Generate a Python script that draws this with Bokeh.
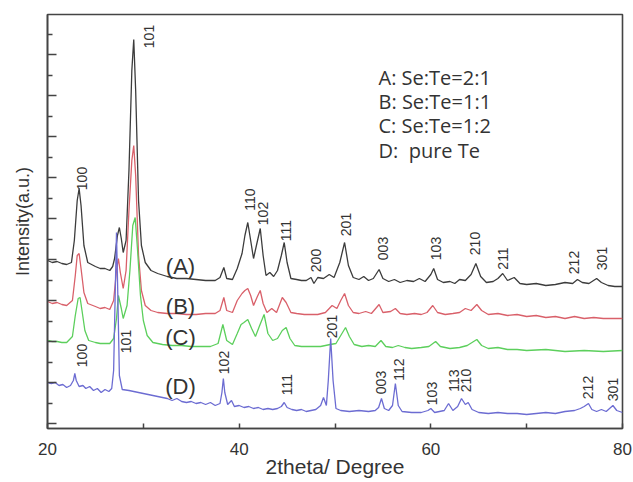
import math
from bokeh.plotting import figure
from bokeh.models import Range1d, FixedTicker, CustomJSTickFormatter, ColumnDataSource
from bokeh.core.properties import value
from bokeh.embed import file_html
from bokeh.resources import INLINE

# ---------------- data (2theta in degree, intensity in a.u.) ----------------
a_x = [20.0, 20.5, 21.0, 21.5, 22.0, 22.5, 22.8, 23.1, 23.3, 23.5, 23.8, 24.2, 25.0, 25.5, 26.0, 26.5,
       26.8, 27.0, 27.3, 27.5, 27.7, 27.9, 28.2, 28.5, 28.8, 29.0, 29.2, 29.5, 29.8, 30.2, 30.8, 31.5,
       32.5, 33.5, 34.5, 35.5, 36.5, 37.5, 38.0, 38.4, 38.7, 39.3, 39.8, 40.3, 40.6, 40.9, 41.2, 41.5,
       41.8, 42.2, 42.5, 42.8, 43.2, 43.6, 44.0, 44.4, 44.7, 45.0, 45.4, 46.0, 46.5, 47.0, 47.5, 47.8,
       48.2, 48.8, 49.4, 49.9, 50.5, 51.0, 51.4, 51.9, 52.5, 53.0, 53.5, 54.0, 54.6, 55.0, 55.6, 56.2,
       56.8, 57.5, 58.2, 58.8, 59.4, 60.0, 60.3, 60.7, 61.3, 62.0, 62.5, 63.0, 63.6, 64.2, 64.7, 65.2,
       65.8, 66.5, 67.0, 67.5, 68.0, 68.7, 69.3, 70.0, 71.0, 72.0, 73.0, 74.0, 74.8, 75.3, 75.8, 76.5,
       77.3, 77.8, 78.5, 79.2, 80.0]
a_y = [163, 161, 162, 160, 159, 161, 183, 223, 235, 218, 178, 161, 157, 155, 155, 153,
       157, 165, 188, 196, 185, 171, 183, 253, 353, 384, 333, 223, 178, 161, 153, 150,
       147, 145, 145, 144, 143, 143, 146, 156, 145, 144, 155, 170, 188, 201, 183, 165,
       178, 195, 168, 148, 151, 147, 153, 168, 181, 161, 145, 144, 143, 143, 146, 140,
       146, 145, 149, 146, 161, 181, 158, 146, 144, 147, 143, 145, 154, 145, 142, 144,
       141, 143, 142, 145, 142, 149, 155, 144, 141, 142, 140, 144, 143, 149, 160, 147,
       141, 142, 145, 150, 143, 146, 140, 139, 140, 138, 139, 141, 140, 144, 141, 140,
       145, 141, 138, 137, 137]

b_x = [20.0, 20.5, 21.0, 21.5, 22.0, 22.6, 22.9, 23.1, 23.3, 23.5, 23.8, 24.2, 25.0, 25.5, 26.0, 26.5,
       26.9, 27.2, 27.4, 27.6, 27.9, 28.2, 28.5, 28.8, 29.0, 29.2, 29.5, 29.8, 30.2, 30.8, 31.5, 32.5,
       33.5, 34.5, 35.5, 36.5, 37.5, 38.0, 38.4, 38.7, 39.3, 39.8, 40.3, 40.6, 40.9, 41.2, 41.5, 41.9,
       42.2, 42.5, 42.9, 43.4, 43.9, 44.5, 44.9, 45.4, 46.0, 46.8, 47.5, 48.2, 49.0, 49.7, 50.2, 50.6,
       51.0, 51.4, 51.9, 52.5, 53.2, 53.8, 54.6, 55.0, 55.8, 56.3, 56.8, 57.5, 58.3, 59.0, 59.6, 60.2,
       60.7, 61.5, 62.3, 63.0, 63.6, 64.2, 64.8, 65.3, 66.0, 67.0, 68.0, 69.0, 70.0, 71.0, 72.0, 73.0,
       74.0, 75.0, 76.0, 77.0, 78.0, 79.0, 80.0]
b_y = [122, 120, 121, 119, 118, 123, 148, 168, 170, 155, 131, 120, 117, 115, 116, 114,
       123, 153, 165, 151, 135, 153, 213, 263, 278, 248, 168, 133, 118, 113, 111, 110,
       110, 109, 109, 110, 110, 113, 126, 113, 111, 123, 130, 133, 135, 128, 118, 127,
       133, 120, 111, 115, 111, 126, 121, 111, 110, 109, 109, 109, 111, 118, 115, 123,
       130, 118, 111, 110, 112, 110, 119, 111, 112, 115, 110, 109, 110, 109, 111, 118,
       111, 109, 110, 111, 115, 113, 119, 113, 109, 110, 108, 109, 107, 108, 106, 107,
       105, 107, 105, 106, 105, 105, 105]

c_x = [20.0, 20.5, 21.0, 21.5, 22.0, 22.6, 22.9, 23.2, 23.4, 23.6, 23.9, 24.3, 25.0, 25.5, 26.0, 26.5,
       26.9, 27.2, 27.4, 27.7, 27.9, 28.3, 28.6, 28.9, 29.15, 29.4, 29.7, 30.0, 30.4, 31.0, 32.0, 33.0,
       34.0, 35.0, 36.0, 37.0, 37.8, 38.3, 38.7, 39.3, 39.8, 40.2, 40.5, 40.9, 41.3, 41.7, 42.1, 42.6,
       43.0, 43.5, 44.0, 44.5, 44.9, 45.3, 45.8, 46.5, 47.5, 48.5, 49.5, 50.1, 50.6, 51.1, 51.5, 52.0,
       52.8, 53.5, 54.2, 54.8, 55.3, 56.0, 56.6, 57.3, 58.0, 59.0, 59.8, 60.5, 61.0, 62.0, 63.0, 63.8,
       64.8, 65.3, 66.0, 67.0, 68.0, 69.0, 70.0, 72.0, 74.0, 76.0, 78.0, 80.0]
c_y = [83, 82, 82, 81, 81, 87, 108, 125, 126, 113, 93, 83, 81, 80, 80, 80,
       85, 105, 128, 115, 105, 118, 153, 198, 206, 173, 128, 103, 88, 81, 79, 78,
       78, 77, 77, 77, 80, 99, 83, 79, 90, 99, 101, 104, 95, 87, 97, 109,
       90, 83, 85, 93, 96, 85, 78, 77, 77, 77, 79, 80, 88, 96, 87, 79,
       77, 78, 77, 83, 77, 76, 78, 76, 75, 76, 77, 82, 77, 75, 76, 78,
       84, 78, 75, 76, 74, 74, 73, 74, 72, 73, 72, 73]

d_x = [20.0, 20.4, 20.8, 21.2, 21.6, 22.0, 22.4, 22.7, 22.85, 23.0, 23.3, 23.7, 24.0, 24.4, 24.8, 25.2,
       25.6, 26.0, 26.4, 26.7, 26.9, 27.05, 27.2, 27.35, 27.5, 27.8, 28.5, 29.5, 30.5, 31.5, 32.5, 33.0,
       33.5, 34.0, 34.5, 35.0, 35.5, 36.0, 36.5, 37.0, 37.5, 38.0, 38.2, 38.35, 38.5, 38.8, 39.2, 39.5,
       40.0, 40.5, 41.0, 41.5, 42.0, 42.5, 43.0, 43.5, 44.0, 44.4, 44.7, 45.0, 45.5, 46.0, 46.5, 47.0,
       47.5, 48.0, 48.5, 48.8, 49.1, 49.3, 49.55, 49.8, 50.1, 50.6, 51.5, 52.5, 53.5, 54.2, 54.55, 54.85,
       55.15, 55.6, 56.0, 56.3, 56.6, 57.0, 58.0, 59.0, 59.7, 60.0, 60.4, 61.4, 61.85, 62.3, 62.8, 63.2,
       63.6, 63.9, 64.3, 65.0, 66.0, 67.0, 68.0, 69.0, 70.0, 71.0, 72.0, 73.0, 74.0, 75.0, 75.6, 76.0,
       76.45, 76.8, 77.3, 77.8, 78.3, 79.0, 79.4, 80.0]
d_y = [41, 40, 41, 38, 39, 36, 38, 43, 50, 43, 37, 38, 35, 37, 33, 35,
       31, 34, 32, 35, 53, 123, 191, 123, 48, 34, 33, 31, 29, 27, 25, 23,
       25, 22, 21, 22, 20, 21, 19, 21, 18, 20, 31, 45, 31, 19, 23, 17,
       18, 16, 17, 15, 16, 14, 15, 14, 15, 17, 21, 16, 14, 13, 14, 12,
       13, 14, 18, 26, 18, 43, 85, 43, 15, 13, 12, 13, 12, 13, 16, 25,
       15, 13, 18, 40, 18, 12, 11, 11, 13, 15, 11, 13, 20, 13, 17, 25,
       19, 21, 14, 11, 10, 11, 10, 10, 9, 10, 11, 10, 12, 13, 15, 17,
       20, 14, 12, 14, 12, 18, 13, 11]

# peak (hkl) labels
a_lab = ["100", "101", "110", "102", "111", "200", "201", "003", "103", "210", "211", "212", "301"]
a_lab_x = [23.65, 30.54, 41.18, 42.44, 44.84, 47.97, 51.10, 54.96, 60.59, 64.56, 67.58, 74.99, 77.81]
a_lab_y = [245, 387, 224, 210, 193, 163, 199, 175, 175, 180, 165, 161, 165]

d_lab = ["100", "101", "102", "111", "201", "003", "112", "103", "113", "210", "212", "301"]
d_lab_x = [23.55, 28.24, 38.37, 45.04, 49.64, 54.75, 56.63, 60.07, 62.37, 63.62, 76.35, 78.96]
d_lab_y = [68, 82, 61, 39, 97, 41, 54, 30, 43, 43, 36, 34]

curve_names = ["(A)", "(B)", "(C)", "(D)"]
curve_name_x = [33.88, 33.88, 33.88, 33.88]
curve_name_y = [157, 117, 86, 37]

legend_lines = ["A: Se:Te=2:1", "B: Se:Te=1:1", "C: Se:Te=1:2", "D:\u00a0\u00a0pure Te"]
legend_x = [54.54, 54.54, 54.54, 54.54]
legend_y = [346, 322, 298, 273]

x_ticks = [20, 40, 60, 80]
x_minor = [30, 50, 70]

# ---------------- figure ----------------
TXT = "#333333"
AX = "#444444"

p = figure(width=633, height=482, output_backend="svg", toolbar_location=None,
           x_range=Range1d(20, 80), y_range=Range1d(-5, 409),
           min_border_left=47, min_border_right=11, min_border_top=14, min_border_bottom=54)
p.grid.visible = False
p.outline_line_color = AX
p.outline_line_width = 1.6
p.background_fill_color = "white"
p.border_fill_color = "white"

series = [(a_x, a_y, "#3c3c3c"), (b_x, b_y, "#d9606a"), (c_x, c_y, "#5ccf5c"), (d_x, d_y, "#6c6cd2")]
for xs, ys, col in series:
    p.line(xs, ys, line_color=col, line_width=1.3)

# x axis
xa = p.xaxis[0]
xa.ticker = FixedTicker(ticks=x_ticks, minor_ticks=x_minor)
xa.major_tick_in = 5
xa.major_tick_out = 0
xa.minor_tick_in = 5
xa.minor_tick_out = 0
xa.axis_line_color = AX
xa.axis_line_width = 1.6
xa.major_tick_line_color = AX
xa.minor_tick_line_color = AX
xa.major_tick_line_width = 1.5
xa.minor_tick_line_width = 1.5
xa.major_label_text_font = "Liberation Sans"
xa.major_label_text_font_size = "17px"
xa.major_label_text_color = TXT
xa.major_label_standoff = 14
xa.axis_label = "2theta/ Degree"
xa.axis_label_text_font = "Liberation Sans"
xa.axis_label_text_font_size = "21px"
xa.axis_label_text_font_style = "normal"
xa.axis_label_text_color = TXT
xa.axis_label_standoff = -3

# y axis
tick_step = 20.5
ya = p.yaxis[0]
ya.ticker = FixedTicker(ticks=[tick_step * k for k in range(0, 20, 2)],
                        minor_ticks=[tick_step * k for k in range(1, 20, 2)])
ya.formatter = CustomJSTickFormatter(code="return ''")
ya.major_tick_in = 9
ya.major_tick_out = 0
ya.minor_tick_in = 5
ya.minor_tick_out = 0
ya.axis_line_color = AX
ya.axis_line_width = 1.6
ya.major_tick_line_color = AX
ya.minor_tick_line_color = AX
ya.major_tick_line_width = 1.5
ya.minor_tick_line_width = 1.5
ya.major_label_standoff = 0
ya.axis_label = "Intensity(a.u.)"
ya.axis_label_text_font = "Liberation Sans"
ya.axis_label_text_font_size = "18px"
ya.axis_label_text_font_style = "normal"
ya.axis_label_text_color = TXT
ya.axis_label_standoff = 15

# peak labels (rotated)
for labs, lx, ly in [(a_lab, a_lab_x, a_lab_y), (d_lab, d_lab_x, d_lab_y)]:
    src = ColumnDataSource(dict(x=lx, y=ly, t=labs))
    p.text(x="x", y="y", text="t", source=src, angle=math.pi / 2,
           text_align="center", text_baseline="middle",
           text_font=value("Liberation Sans"), text_font_size="14px", text_color=TXT)

# curve names
p.text(x=curve_name_x, y=curve_name_y, text=curve_names,
       text_align="center", text_baseline="middle",
       text_font=value("Liberation Sans"), text_font_size="22px", text_color=TXT)

# composition legend
p.text(x=legend_x, y=legend_y, text=legend_lines,
       text_align="left", text_baseline="middle",
       text_font=value("Open Sans"), text_font_size="20px", text_color=TXT)

open("out.html", "w").write(file_html(p, INLINE))
